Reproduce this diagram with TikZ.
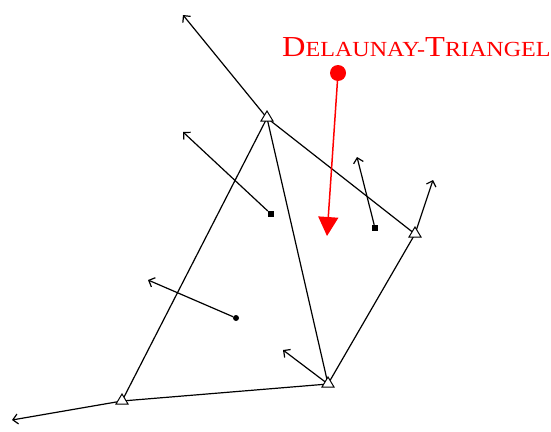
\documentclass[tikz,border=0pt]{standalone}
\usepackage{fontspec}
\usepackage{graphicx}
\setmainfont{Liberation Serif}
\usetikzlibrary{arrows.meta}
\begin{document}
\begin{tikzpicture}[x=1pt,y=-1pt,
  edge/.style={line width=1.2pt,black},
  ray/.style={line width=1.2pt,black,-{Straight Barb[length=5pt,width=10pt,line width=1.2pt]}},
  vmark/.pic={\draw[line width=1pt,fill=white] (-6,3) -- (6,3) -- (0,-7) -- cycle;},
  sq/.style={fill=black,rectangle,minimum size=6pt,inner sep=0pt},
  dotn/.style={fill=black,circle,minimum size=6pt,inner sep=0pt},
  redc/.style={red}
]
\useasboundingbox (0,0) rectangle (551,431);
% vertices
\coordinate (A) at (267,118);
\coordinate (B) at (415,234);
\coordinate (C) at (328,384);
\coordinate (D) at (122,401);
% ray ends
\coordinate (Ae) at (183,15);
\coordinate (Be) at (433,180);
\coordinate (Ce) at (283,350);
\coordinate (De) at (12,420);
% Voronoi points
\node[sq] (P1) at (271,214) {};
\node[sq] (P2) at (375,228) {};
\node[dotn] (P3) at (236,318) {};
\coordinate (P1e) at (183,132);
\coordinate (P2e) at (357,157);
\coordinate (P3e) at (148,280);
% edges
\draw[edge] (A) -- (D);
\draw[edge] (A) -- (C);
\draw[edge] (C) -- (B);
\draw[edge] (C) -- (D);
\draw[edge] (B) -- (A);
% rays
\draw[ray] (A) -- (Ae);
\draw[ray] (B) -- (Be);
\draw[ray] (C) -- (Ce);
\draw[ray] (D) -- (De);
\draw[ray] (P1) -- (P1e);
\draw[ray] (P2) -- (P2e);
\draw[ray] (P3) -- (P3e);
% triangle markers
\pic at (A) {vmark};
\pic at (B) {vmark};
\pic at (C) {vmark};
\pic at (D) {vmark};
% label
\node[redc,anchor=base west,inner sep=0pt] (lab) at (282,56)
  {\scalebox{1.12}[1]{\fontsize{29}{29}\selectfont D\fontsize{21.5}{21.5}\selectfont ELAUNAY-\fontsize{29}{29}\selectfont T\fontsize{21.5}{21.5}\selectfont RIANGEL}};
\node[circle,fill=red,minimum size=16pt,inner sep=0pt] (rd) at (338,73) {};
\draw[red,line width=1.5pt,-{Triangle[length=19pt,width=20pt]}] (rd.center) -- (327,236);
\end{tikzpicture}
\end{document}
